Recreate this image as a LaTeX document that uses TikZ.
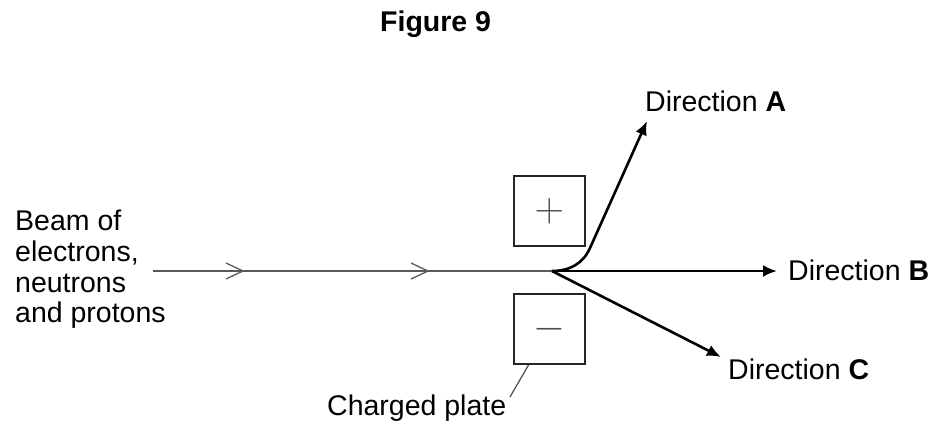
\documentclass[tikz,border=0pt]{standalone}
\usepackage{fontspec}
\setmainfont{Liberation Sans}
\usepackage{xcolor}
\usepackage{graphicx}
\usetikzlibrary{positioning,arrows.meta}

\begin{document}
\begin{tikzpicture}[x=1pt, y=-1pt, every node/.style={inner sep=0pt, font=\fontsize{28.5}{30.7}\selectfont},
  label/.style={anchor=base west, align=left},
  plate/.style={draw=black!85, line width=2pt, minimum width=71pt, minimum height=70pt, text=black!70},
  beamline/.style={draw=black!65, line width=1.5pt},
  path/.style={draw, line width=2.6pt, -{Latex[length=14pt,width=12pt]}}]
\useasboundingbox (0,0) rectangle (938,428);
\node[label, font=\fontsize{28.5}{30.7}\selectfont\bfseries] (title) at (380,32) {Figure 9};
\node[label] (beam) at (15,322.7) {Beam of\\electrons,\\neutrons\\and protons};
\node[plate] (plus) at (549.5,211) {\scalebox{1.65}{$+$}};
\node[plate] (minus) at (549.5,329) {\scalebox{1.65}{$-$}};
\coordinate (start) at (153,271);
\coordinate (split) at (552,271);
\coordinate (bend) at (590,248);
\coordinate (tipA) at (647,121);
\coordinate (tipB) at (777,271);
\coordinate (tipC) at (721,357);
\coordinate (foot) at (510,397);
\node[label] (dirA) at (645,111.7) {Direction \textbf{A}};
\node[label] (dirB) at (788,280) {Direction \textbf{B}};
\node[label] (dirC) at (728,379) {Direction \textbf{C}};
\node[label] (name) at (327,415) {Charged plate};
% beam with chevrons
\draw[beamline] (start) -- (split);
\foreach \x in {243,428}
  \draw[beamline, line width=1.3pt] (\x-17,263) -- (\x,271) -- (\x-17,279);
% deflected paths
\draw[path] (split) to[out=0, in=-114] (bend) -- (tipA);
\draw[path] (split) -- (tipB);
\draw[path] (split) -- (tipC);
\draw[black!70, line width=1.2pt] ([xshift=-21pt]minus.south) -- (foot);
\end{tikzpicture}
\end{document}
